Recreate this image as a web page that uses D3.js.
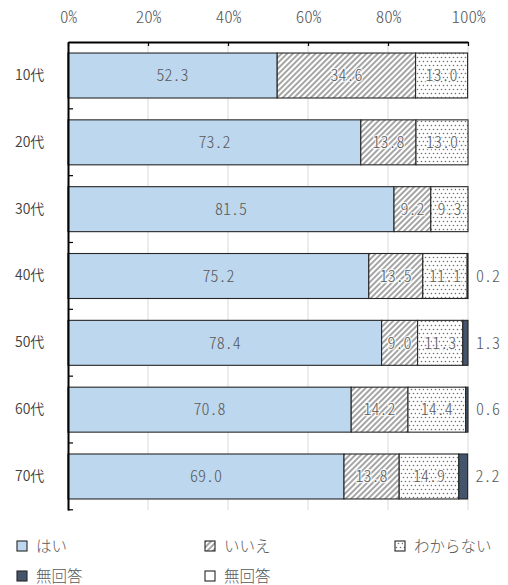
<!DOCTYPE html>
<html>
<head>
<meta charset="utf-8">
<script src="https://cdn.jsdelivr.net/npm/d3@7"></script>
<style>
  html, body { margin: 0; padding: 0; background: #fff; }
  svg { display: block; }
  .hw { font-feature-settings: "hwid" 1; }
</style>
</head>
<body>
<svg id="chart" width="508" height="585"></svg>
<script>
// Age groups (rows) and answer shares in percent
const ageGroups = ["10代", "20代", "30代", "40代", "50代", "60代", "70代"];
const yesValues = [52.3, 73.2, 81.5, 75.2, 78.4, 70.8, 69.0];
const noValues = [34.6, 13.8, 9.2, 13.5, 9.0, 14.2, 13.8];
const unsureValues = [13.0, 13.0, 9.3, 11.1, 11.3, 14.4, 14.9];
const noAnswerValues = [0, 0, 0, 0.2, 1.3, 0.6, 2.2];
const noAnswerOpenValues = [0, 0, 0, 0, 0, 0, 0];
const xTicks = [0, 20, 40, 60, 80, 100];
const seriesNames = ["はい", "いいえ", "わからない", "無回答", "無回答"];

const series = [
  { name: seriesNames[0], values: yesValues, fill: "#BDD7EE", label: "inside" },
  { name: seriesNames[1], values: noValues, fill: "url(#hatch)", label: "inside" },
  { name: seriesNames[2], values: unsureValues, fill: "url(#dots)", label: "inside" },
  { name: seriesNames[3], values: noAnswerValues, fill: "#44546A", label: "outside" },
  { name: seriesNames[4], values: noAnswerOpenValues, fill: "#FFFFFF", label: "none" }
];

const svg = d3.select("#chart");
const jpFont = "'Noto Sans CJK JP', sans-serif";

// Fill patterns
const defs = svg.append("defs");
const hatch = defs.append("pattern")
  .attr("id", "hatch").attr("patternUnits", "userSpaceOnUse")
  .attr("width", 4).attr("height", 4)
  .attr("patternTransform", "rotate(45)");
hatch.append("rect").attr("width", 4).attr("height", 4).attr("fill", "#fff");
hatch.append("line").attr("x1", 1).attr("y1", 0).attr("x2", 1).attr("y2", 4)
  .attr("stroke", "#7f7f7f").attr("stroke-width", 1.4);

const dots = defs.append("pattern")
  .attr("id", "dots").attr("patternUnits", "userSpaceOnUse")
  .attr("width", 8).attr("height", 8);
dots.append("rect").attr("width", 8).attr("height", 8).attr("fill", "#fff");
[[1.5, 1.5], [5.5, 1.5], [3.5, 5.5], [7.5, 5.5]].forEach(([cx, cy]) => {
  dots.append("circle").attr("cx", cx).attr("cy", cy).attr("r", 0.8).attr("fill", "#707070");
});

// Scales
const x = d3.scaleLinear().domain([0, 100]).range([68, 468]);
const y = d3.scaleBand().domain(ageGroups).range([42, 510])
  .paddingInner(0.327).paddingOuter(0.165);

// Vertical gridlines
svg.append("g").selectAll("line").data(xTicks.slice(1)).join("line")
  .attr("x1", d => x(d)).attr("x2", d => x(d))
  .attr("y1", 42).attr("y2", 510)
  .attr("stroke", "#d9d9d9").attr("stroke-width", 1);

// Stacked bars
const stackedRows = ageGroups.map((g, i) => {
  let acc = 0;
  return series.map(s => {
    const v = s.values[i];
    const seg = { group: g, v, x0: acc, x1: acc + v, s };
    acc += v;
    return seg;
  });
});

const rows = svg.append("g").selectAll("g").data(stackedRows).join("g");
rows.selectAll("rect").data(d => d.filter(seg => seg.v > 0)).join("rect")
  .attr("x", d => x(d.x0))
  .attr("y", d => y(d.group))
  .attr("width", d => x(d.x1) - x(d.x0))
  .attr("height", y.bandwidth())
  .attr("fill", d => d.s.fill)
  .attr("stroke", "#262626")
  .attr("stroke-width", 1.1);

// Value labels
rows.selectAll("text").data(d => d.filter(seg => seg.v > 0 && seg.s.label !== "none")).join("text")
  .attr("class", "hw")
  .attr("x", d => d.s.label === "inside" ? (x(d.x0) + x(d.x1)) / 2 : x(d.x1) + 8)
  .attr("y", d => y(d.group) + y.bandwidth() / 2)
  .attr("dy", "0.36em")
  .attr("text-anchor", d => d.s.label === "inside" ? "middle" : "start")
  .attr("font-family", jpFont)
  .attr("font-weight", 300)
  .attr("font-size", 16)
  .attr("fill", "#595959")
  .attr("stroke", d => d.s.label === "inside" && d.s.fill.startsWith("url") ? "#fff" : "none")
  .attr("stroke-width", 2.5)
  .attr("stroke-opacity", 0.75)
  .attr("paint-order", "stroke")
  .text(d => d.v.toFixed(1));

// Top axis
const topAxis = svg.append("g").attr("transform", "translate(0,42)")
  .call(d3.axisTop(x).tickValues(xTicks).tickFormat(d => d + "%").tickSizeInner(-4).tickSizeOuter(0));
topAxis.select(".domain").attr("stroke", "#000").attr("stroke-width", 2);
topAxis.selectAll(".tick line").attr("stroke", "#000").attr("stroke-width", 1.2);
topAxis.selectAll(".tick text")
  .attr("class", "hw")
  .attr("y", -19)
  .attr("font-family", jpFont)
  .attr("font-weight", 300)
  .attr("font-size", 17)
  .attr("fill", "#595959");

// Left axis with category boundary ticks
const leftAxis = svg.append("g").attr("transform", "translate(68,0)")
  .call(d3.axisLeft(y).tickSize(0).tickPadding(23));
leftAxis.select(".domain").attr("stroke", "#000").attr("stroke-width", 2);
leftAxis.selectAll(".tick text")
  .attr("text-anchor", "start")
  .attr("x", -53)
  .attr("font-family", jpFont)
  .attr("font-weight", 350)
  .attr("font-size", 14)
  .attr("fill", "#404040");
const step = y.step();
const boundaries = ageGroups.map((g, i) => 42 + (i + 1) * step);
svg.append("g").selectAll("line").data(boundaries).join("line")
  .attr("x1", 68).attr("x2", 73)
  .attr("y1", d => d).attr("y2", d => d)
  .attr("stroke", "#000").attr("stroke-width", 1.2);

// Legend
const legendPos = [[17, 546], [205, 546], [395, 546], [17, 576], [205, 576]];
const legend = svg.append("g").selectAll("g").data(series).join("g")
  .attr("transform", (d, i) => `translate(${legendPos[i][0]},${legendPos[i][1]})`);
legend.append("rect")
  .attr("x", 0).attr("y", -5).attr("width", 10).attr("height", 10)
  .attr("fill", d => d.fill)
  .attr("stroke", "#262626").attr("stroke-width", 1.1);
legend.append("text")
  .attr("x", 19).attr("y", 0).attr("dy", "0.36em")
  .attr("font-family", jpFont)
  .attr("font-weight", 300)
  .attr("font-size", 15.5)
  .attr("fill", "#595959")
  .text(d => d.name);
</script>
</body>
</html>
